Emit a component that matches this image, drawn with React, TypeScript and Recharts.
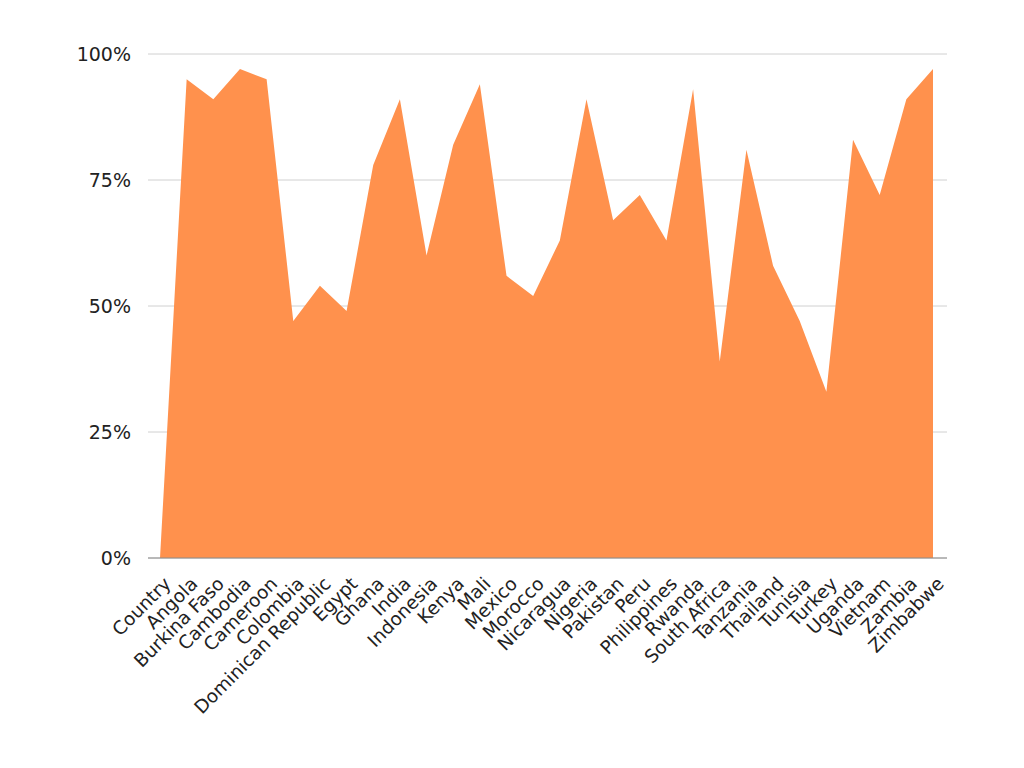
import React from "react";
import { AreaChart, Area, XAxis, YAxis, CartesianGrid } from "recharts";

const countries = [
  "Country", "Angola", "Burkina Faso", "Cambodia", "Cameroon", "Colombia",
  "Dominican Republic", "Egypt", "Ghana", "India", "Indonesia", "Kenya",
  "Mali", "Mexico", "Morocco", "Nicaragua", "Nigeria", "Pakistan", "Peru",
  "Philippines", "Rwanda", "South Africa", "Tanzania", "Thailand", "Tunisia",
  "Turkey", "Uganda", "Vietnam", "Zambia", "Zimbabwe",
];

const shares = [
  0, 95, 91, 97, 95, 47, 54, 49, 78, 91, 60, 82, 94, 56, 52, 63, 91, 67, 72,
  63, 93, 39, 81, 58, 47, 33, 83, 72, 91, 97,
];

const yTicks = [0, 25, 50, 75, 100];

const data = countries.map((name, i) => ({ name, value: shares[i] }));

const FONT = "'DejaVu Sans', sans-serif";

function XTick(props: any) {
  const { x, y, payload } = props;
  return (
    <g transform={`translate(${x + 12},${y + 19})`}>
      <text
        transform="rotate(-45)"
        textAnchor="end"
        fontFamily={FONT}
        fontSize={18.5}
        fill="#222"
      >
        {payload.value}
      </text>
    </g>
  );
}

export default function App() {
  return (
    <div style={{ position: "absolute", left: 0, top: 0, background: "#fff" }}>
      <AreaChart
        width={1024}
        height={768}
        data={data}
        margin={{ top: 54, right: 77, bottom: 180, left: 0 }}
      >
        <CartesianGrid vertical={false} stroke="#d0d0d0" />
        <XAxis
          dataKey="name"
          scale="point"
          height={30}
          padding={{ left: 12, right: 14 }}
          interval={0}
          tickLine={false}
          axisLine={{ stroke: "#8a8a8a" }}
          tick={<XTick />}
        />
        <YAxis
          width={148}
          domain={[0, 100]}
          ticks={yTicks}
          tickFormatter={(v) => `${v}%`}
          axisLine={false}
          tickLine={false}
          tickMargin={11}
          tick={{ fontFamily: FONT, fontSize: 19, fill: "#222" }}
        />
        <Area
          type="linear"
          dataKey="value"
          stroke="none"
          fill="#FF914D"
          fillOpacity={1}
          isAnimationActive={false}
        />
      </AreaChart>
    </div>
  );
}
